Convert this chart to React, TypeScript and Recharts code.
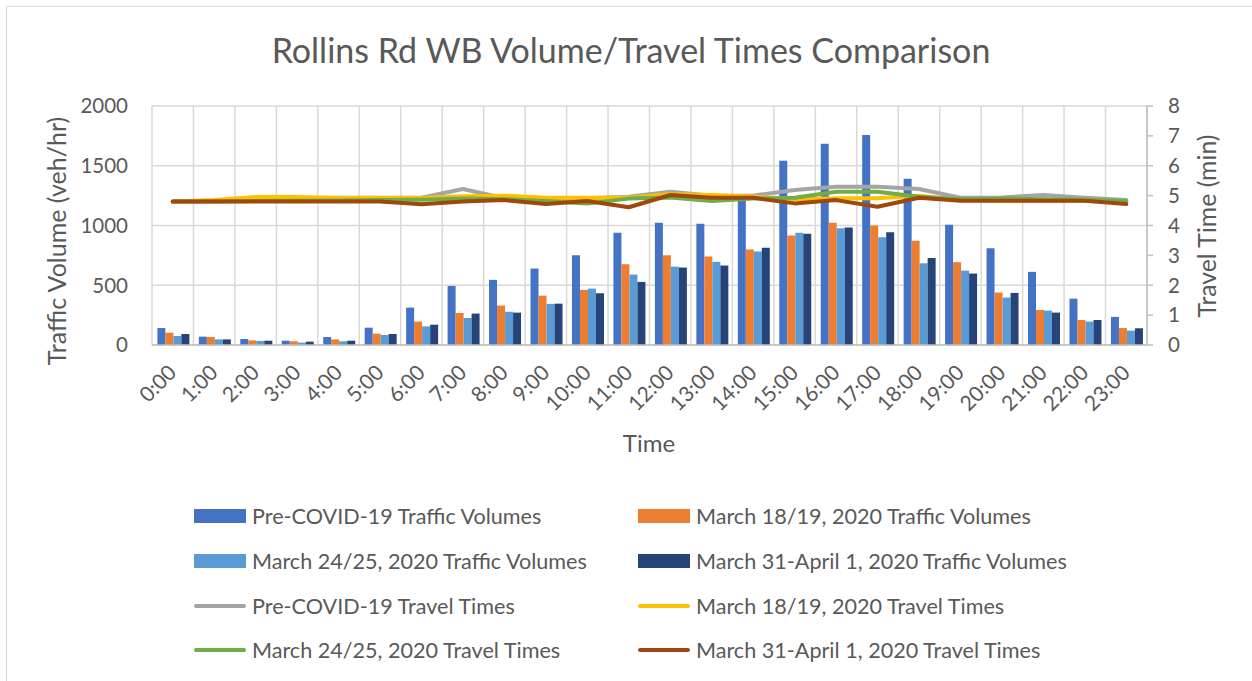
import React from 'react';
import {
  ComposedChart,
  Bar,
  Line,
  XAxis,
  YAxis,
  CartesianGrid,
  Label,
} from 'recharts';

const FONT = 'Lato, "Liberation Sans", sans-serif';
const TEXT = '#595959';

const hours = [
  '0:00', '1:00', '2:00', '3:00', '4:00', '5:00', '6:00', '7:00', '8:00', '9:00', '10:00', '11:00',
  '12:00', '13:00', '14:00', '15:00', '16:00', '17:00', '18:00', '19:00', '20:00', '21:00', '22:00', '23:00',
];

// traffic volumes (veh/hr)
const preVolumes = [142, 70, 50, 36, 67, 145, 313, 494, 545, 640, 751, 939, 1022, 1014, 1220, 1542, 1684, 1757, 1391, 1006, 810, 612, 388, 235];
const mar18Volumes = [103, 67, 39, 31, 47, 95, 196, 268, 330, 413, 461, 676, 751, 740, 799, 916, 1022, 1000, 872, 693, 439, 293, 209, 142];
const mar24Volumes = [75, 47, 34, 20, 31, 84, 156, 226, 279, 344, 472, 589, 656, 696, 782, 939, 978, 902, 684, 623, 397, 288, 196, 120];
const mar31Volumes = [92, 47, 36, 28, 36, 92, 170, 263, 271, 346, 433, 528, 648, 665, 813, 930, 983, 944, 729, 598, 436, 271, 209, 140];

// travel times (min)
const preTimes = [4.8, 4.82, 4.88, 4.92, 4.93, 4.93, 4.93, 5.22, 4.91, 4.89, 4.91, 4.96, 5.13, 5.0, 5.0, 5.19, 5.3, 5.3, 5.22, 4.93, 4.94, 5.02, 4.93, 4.85];
const mar18Times = [4.8, 4.85, 4.95, 4.95, 4.92, 4.92, 4.92, 4.98, 5.0, 4.93, 4.93, 4.93, 5.05, 5.02, 4.96, 4.88, 4.91, 4.91, 5.0, 4.85, 4.84, 4.83, 4.83, 4.8];
const mar24Times = [4.8, 4.8, 4.82, 4.83, 4.84, 4.85, 4.86, 4.9, 4.88, 4.82, 4.74, 4.9, 4.94, 4.82, 4.9, 4.93, 5.13, 5.13, 4.96, 4.88, 4.9, 4.88, 4.86, 4.82];
const mar31Times = [4.8, 4.8, 4.8, 4.8, 4.8, 4.8, 4.71, 4.8, 4.85, 4.72, 4.82, 4.61, 5.02, 4.93, 4.93, 4.74, 4.85, 4.63, 4.93, 4.83, 4.83, 4.83, 4.83, 4.72];

const volumeTicks = [0, 500, 1000, 1500, 2000];
const timeTicks = [0, 1, 2, 3, 4, 5, 6, 7, 8];

const barSeries = [
  { key: 'preVol', name: 'Pre-COVID-19 Traffic Volumes', color: '#4472C4', values: preVolumes },
  { key: 'mar18Vol', name: 'March 18/19, 2020 Traffic Volumes', color: '#ED7D31', values: mar18Volumes },
  { key: 'mar24Vol', name: 'March 24/25, 2020 Traffic Volumes', color: '#5B9BD5', values: mar24Volumes },
  { key: 'mar31Vol', name: 'March 31-April 1, 2020 Traffic Volumes', color: '#264478', values: mar31Volumes },
];

const lineSeries = [
  { key: 'preTT', name: 'Pre-COVID-19 Travel Times', color: '#A5A5A5', values: preTimes },
  { key: 'mar18TT', name: 'March 18/19, 2020 Travel Times', color: '#FFC000', values: mar18Times },
  { key: 'mar24TT', name: 'March 24/25, 2020 Travel Times', color: '#70AD47', values: mar24Times },
  { key: 'mar31TT', name: 'March 31-April 1, 2020 Travel Times', color: '#9E480E', values: mar31Times },
];

const chartData = hours.map((hour, i) => {
  const row: Record<string, string | number> = { hour };
  barSeries.forEach((s) => (row[s.key] = s.values[i]));
  lineSeries.forEach((s) => (row[s.key] = s.values[i]));
  return row;
});

const HourTick = (props: any) => {
  const { x, y, payload } = props;
  const ax = x + 5;
  const ay = y + 27;
  return (
    <text
      x={ax}
      y={ay}
      transform={`rotate(-45, ${ax}, ${ay})`}
      textAnchor="end"
      fill={TEXT}
      fontSize={21}
      fontFamily={FONT}
    >
      {payload.value}
    </text>
  );
};

const legendItems = [
  ...barSeries.map((s) => ({ ...s, kind: 'bar' })),
  ...lineSeries.map((s) => ({ ...s, kind: 'line' })),
];

function ChartLegend() {
  return (
    <div style={{ position: 'absolute', left: 194, top: 500, width: 960 }}>
      {legendItems.map((item, i) => (
        <div
          key={item.key}
          style={{
            position: 'absolute',
            left: (i % 2) * 444,
            top: Math.floor(i / 2) * 44.8,
            height: 32,
            display: 'flex',
            alignItems: 'center',
            whiteSpace: 'nowrap',
          }}
        >
          <div
            style={{
              width: 52,
              height: item.kind === 'bar' ? 14 : 4,
              borderRadius: item.kind === 'bar' ? 0 : 2,
              background: item.color,
              marginRight: 6,
            }}
          />
          <span style={{ fontFamily: FONT, fontSize: 21.6, color: TEXT }}>{item.name}</span>
        </div>
      ))}
    </div>
  );
}

export default function App() {
  return (
    <div
      style={{
        position: 'absolute',
        left: 0,
        top: 0,
        width: 1252,
        height: 681,
        overflow: 'hidden',
        background: '#fff',
      }}
    >
      <div
        style={{
          position: 'absolute',
          left: 6,
          top: 6,
          width: 1300,
          height: 720,
          border: '1px solid #d9d9d9',
        }}
      />
      <div
        style={{
          position: 'absolute',
          left: 0,
          top: 29,
          width: 1262,
          textAlign: 'center',
          fontFamily: FONT,
          fontSize: 34,
          color: TEXT,
        }}
      >
        Rollins Rd WB Volume/Travel Times Comparison
      </div>
      <div style={{ position: 'absolute', left: 0, top: 0 }}>
        <ComposedChart
          width={1252}
          height={470}
          data={chartData}
          margin={{ top: 106, right: 45, bottom: 0, left: 52 }}
          barCategoryGap="13%"
          barGap={0}
        >
          <CartesianGrid
            yAxisId="vol"
            stroke="#d9d9d9"
            strokeWidth={1.5}
            verticalCoordinatesGenerator={({ offset }: any) =>
              hours.concat('').map((_, i) => offset.left + (i * offset.width) / hours.length)
            }
          />
          <XAxis
            dataKey="hour"
            height={125}
            interval={0}
            tick={<HourTick />}
            tickLine={false}
            tickSize={0}
            stroke="#bfbfbf"
            strokeWidth={1.5}
          >
            <Label
              content={() => (
                <text x={649} y={452} textAnchor="middle" fill={TEXT} fontSize={24} fontFamily={FONT}>
                  Time
                </text>
              )}
            />
          </XAxis>
          <YAxis
            yAxisId="vol"
            width={100}
            domain={[0, 2000]}
            ticks={volumeTicks}
            axisLine={false}
            tickLine={false}
            tickSize={0}
            tickMargin={24}
            tick={{ fill: TEXT, fontSize: 20.5, fontFamily: FONT }}
          >
            <Label
              content={() => (
                <text
                  x={66}
                  y={241}
                  transform="rotate(-90, 66, 241)"
                  textAnchor="middle"
                  fill={TEXT}
                  fontSize={25}
                  fontFamily={FONT}
                >
                  Traffic Volume (veh/hr)
                </text>
              )}
            />
          </YAxis>
          <YAxis
            yAxisId="tt"
            orientation="right"
            width={60}
            domain={[0, 8]}
            ticks={timeTicks}
            stroke="#bfbfbf"
            strokeWidth={1.5}
            tickSize={6}
            tickMargin={15}
            tick={{ fill: TEXT, fontSize: 20.5, fontFamily: FONT }}
          >
            <Label
              content={() => (
                <text
                  x={1216}
                  y={226}
                  transform="rotate(-90, 1216, 226)"
                  textAnchor="middle"
                  fill={TEXT}
                  fontSize={24.8}
                  fontFamily={FONT}
                >
                  Travel Time (min)
                </text>
              )}
            />
          </YAxis>
          {barSeries.map((s) => (
            <Bar
              key={s.key}
              yAxisId="vol"
              dataKey={s.key}
              name={s.name}
              fill={s.color}
              isAnimationActive={false}
            />
          ))}
          {lineSeries.map((s) => (
            <Line
              key={s.key}
              yAxisId="tt"
              type="linear"
              dataKey={s.key}
              name={s.name}
              stroke={s.color}
              strokeWidth={4}
              strokeLinecap="round"
              strokeLinejoin="round"
              dot={false}
              activeDot={false}
              isAnimationActive={false}
            />
          ))}
        </ComposedChart>
      </div>
      <ChartLegend />
    </div>
  );
}
